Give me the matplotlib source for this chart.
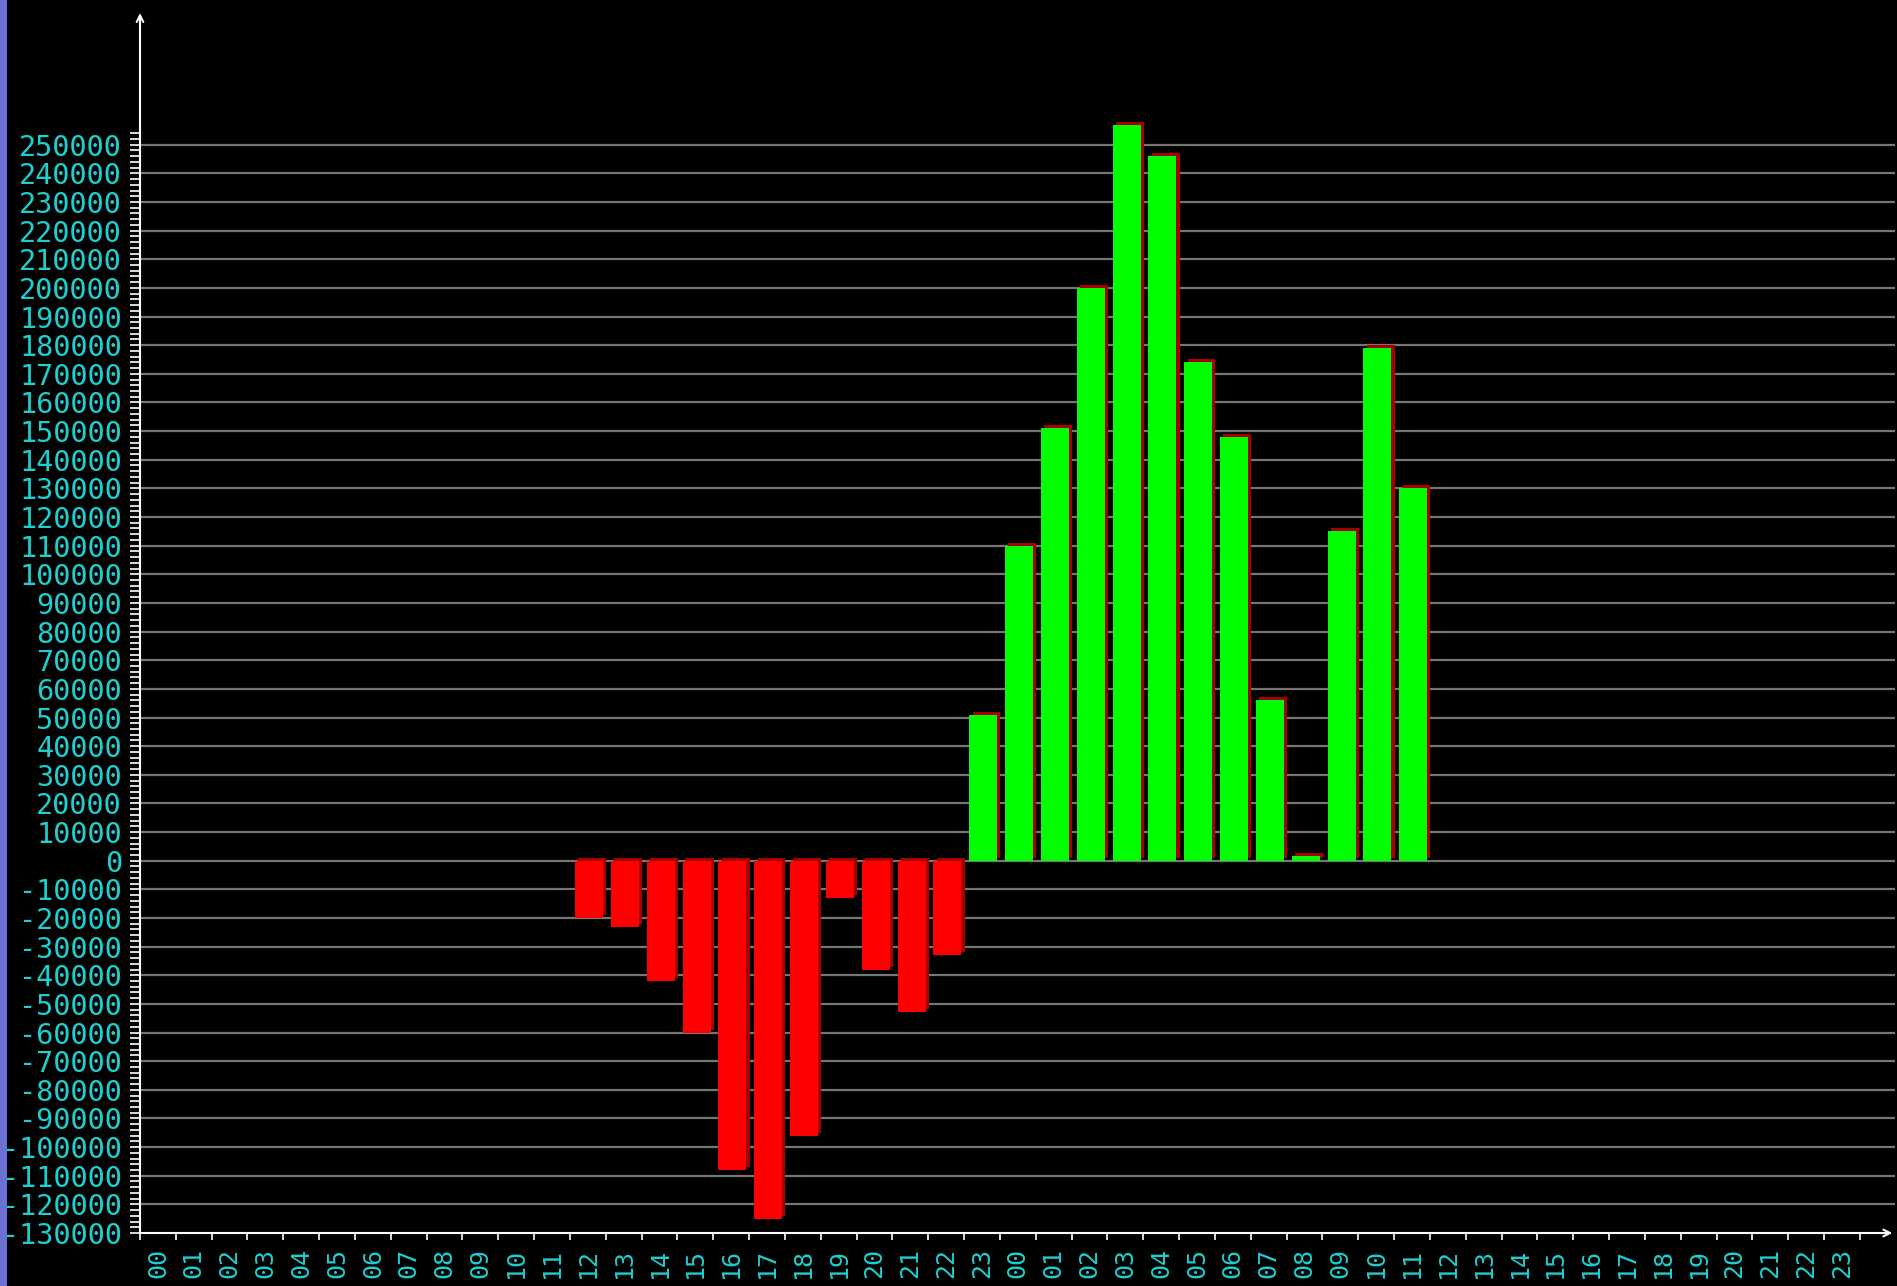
import numpy as np
import matplotlib.pyplot as plt
from matplotlib.patches import Rectangle

# hour labels, two days side by side
hours = ["00", "01", "02", "03", "04", "05", "06", "07", "08", "09", "10", "11",
         "12", "13", "14", "15", "16", "17", "18", "19", "20", "21", "22", "23"]
x_labels = hours + hours

# bars start at slot 12 of the first day and run to 11 of the second day
first_slot = 12
values = [-20000, -23000, -42000, -60000, -108000, -125000, -96000, -13000,
          -38000, -53000, -33000, 51000, 110000, 151000, 200000, 257000,
          246000, 174000, 148000, 56000, 1500, 115000, 179000, 130000]

y_ticks = list(range(-130000, 250001, 10000))

TEXT = '#1ecfcf'
W, H = 1897, 1286


def main():
    fig = plt.figure(figsize=(W / 100, H / 100), dpi=100, facecolor='black')
    # axes box in pixels: y axis at x=140, x axis at y=1233, top arrow y=13
    ax = fig.add_axes([140 / W, (H - 1233) / H, (1895 - 140) / W, (1233 - 13) / H])
    ax.set_facecolor('black')

    ax.set_xlim(0, 48.98)
    ax.set_ylim(-130000, 296000)

    # shadow offset of roughly 3 px
    dx = 0.09
    dy = 1050

    slots = np.arange(len(values)) + first_slot
    vals = np.array(values)
    faces = ['#00ff00' if v >= 0 else '#ff0000' for v in vals]

    ax.bar(slots + 0.145 + dx, vals, bottom=dy, width=0.78, align='edge',
           color='#a80000', linewidth=0, zorder=2)
    ax.bar(slots + 0.145, vals, width=0.78, align='edge',
           color=faces, linewidth=0, zorder=3)

    # grid lines
    for v in y_ticks[1:]:
        ax.axhline(v, color='#767676', linewidth=1.6, zorder=1)

    # y axis ticks
    ax.set_yticks(y_ticks)
    ax.set_yticklabels([str(v) for v in y_ticks])
    ax.set_yticks(np.arange(-130000, 254001, 2000), minor=True)
    ax.tick_params(axis='y', which='both', direction='out', length=7, width=1.2,
                   color='white', labelcolor=TEXT, labelsize=20.5, pad=6)
    for t in ax.get_yticklabels():
        t.set_family('DejaVu Sans Mono')

    # x axis: ticks at slot edges, labels centred in slots
    ax.set_xticks(np.arange(0, 49))
    ax.set_xticklabels([])
    ax.set_xticks(np.arange(48) + 0.5, minor=True)
    ax.set_xticklabels(x_labels, minor=True, rotation=90)
    ax.tick_params(axis='x', which='major', direction='out', length=5, width=1.2,
                   color='white')
    ax.tick_params(axis='x', which='minor', length=0, labelcolor=TEXT,
                   labelsize=18, pad=11)
    for t in ax.get_xticklabels(minor=True):
        t.set_family('DejaVu Sans Mono')

    for s in ax.spines.values():
        s.set_visible(False)

    # axis lines with open arrow heads
    ax.annotate('', xy=(0, 1), xytext=(0, 0), xycoords='axes fraction',
                arrowprops=dict(arrowstyle='->', color='white', lw=1.5,
                                shrinkA=0, shrinkB=0, mutation_scale=12),
                zorder=5)
    ax.annotate('', xy=(0.9985, 0), xytext=(0, 0), xycoords='axes fraction',
                arrowprops=dict(arrowstyle='->', color='white', lw=1.5,
                                shrinkA=0, shrinkB=0, mutation_scale=12),
                zorder=5)

    # blue strip on the left edge
    fig.patches.append(Rectangle((0, 0), 7 / W, 1, transform=fig.transFigure,
                                 facecolor='#6a72d6', edgecolor='none', zorder=10))

    fig.savefig('out.png', dpi=100, facecolor='black')


if __name__ == "__main__":
    main()
